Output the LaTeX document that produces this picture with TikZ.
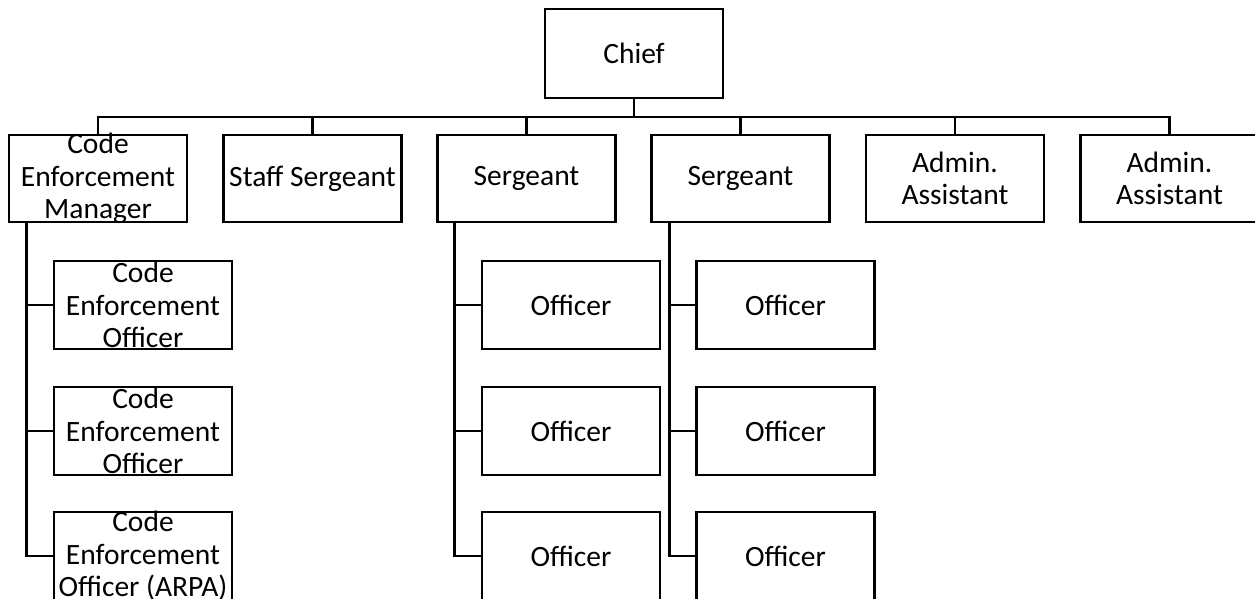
\documentclass[tikz,border=0pt]{standalone}
\usepackage{fontspec}
\setmainfont{Carlito}
\begin{document}
\begin{tikzpicture}[x=1pt,y=-1pt,
  box/.style={draw=black,line width=2.7pt,rectangle,minimum width=178pt,minimum height=88pt,inner sep=0pt,fill=white},
  lbl/.style={align=center,inner sep=0pt,font={\fontsize{29.5}{32.5}\selectfont},text=black},
  wire/.style={draw=black,line width=2.7pt}]
\useasboundingbox (0,0) rectangle (1255,598);
\clip (0,0) rectangle (1255,598);
\fill[white] (0,0) rectangle (1255,598);
% level 1
\node[box,minimum height=89pt] (chief) at (634,53.5) {};
\node[lbl] (chiefT) at (chief) {Chief};
% level 2
\node[box,minimum height=87pt] (cem) at (98,178.5) {};
\node[box,minimum height=87pt] (ss) at (312.5,178.5) {};
\node[box,minimum height=87pt] (sg1) at (526.5,178.5) {};
\node[box,minimum height=87pt] (sg2) at (740.5,178.5) {};
\node[box,minimum height=87pt] (aa1) at (955,178.5) {};
\node[box,minimum height=87pt] (aa2) at (1169.5,178.5) {};
\node[lbl] (cemT) at (cem) {Code\\Enforcement\\Manager};
\node[lbl] (ssT) at (ss) {Staff Sergeant};
\node[lbl] (sg1T) at (sg1) {Sergeant};
\node[lbl] (sg2T) at (sg2) {Sergeant};
\node[lbl] (aa1T) at (aa1) {Admin.\\Assistant};
\node[lbl] (aa2T) at (aa2) {Admin.\\Assistant};
% level 3
\node[box] (c1a) at (143,305) {};
\node[box] (c1b) at (143,431) {};
\node[box] (c1c) at (143,556) {};
\node[box] (c2a) at (571,305) {};
\node[box] (c2b) at (571,431) {};
\node[box] (c2c) at (571,556) {};
\node[box] (c3a) at (785.5,305) {};
\node[box] (c3b) at (785.5,431) {};
\node[box] (c3c) at (785.5,556) {};
\node[lbl] (c1aT) at (c1a) {Code\\Enforcement\\Officer};
\node[lbl] (c1bT) at (c1b) {Code\\Enforcement\\Officer};
\node[lbl] (c1cT) at (c1c) {Code\\Enforcement\\Officer (ARPA)};
\foreach \n in {c2a,c2b,c2c,c3a,c3b,c3c}{\node[lbl] (\n T) at (\n) {Officer};}
% bus
\coordinate (bus) at (634,117);
\draw[wire] (chief.south) -- (bus);
\draw[wire] (cem.north) -- (cem.north |- bus) -- (aa2.north |- bus) -- (aa2.north);
\foreach \n in {ss,sg1,sg2,aa1}{\draw[wire] (\n.north) -- (\n.north |- bus);}
% spines
\coordinate (sp1) at ([xshift=19pt]cem.south west);
\coordinate (sp2) at ([xshift=18pt]sg1.south west);
\coordinate (sp3) at ([xshift=19pt]sg2.south west);
\draw[wire] (sp1) |- (c1c.west);
\draw[wire] (sp1 |- c1a.west) -- (c1a.west);
\draw[wire] (sp1 |- c1b.west) -- (c1b.west);
\draw[wire] (sp2) |- (c2c.west);
\draw[wire] (sp2 |- c2a.west) -- (c2a.west);
\draw[wire] (sp2 |- c2b.west) -- (c2b.west);
\draw[wire] (sp3) |- (c3c.west);
\draw[wire] (sp3 |- c3a.west) -- (c3a.west);
\draw[wire] (sp3 |- c3b.west) -- (c3b.west);
\end{tikzpicture}
\end{document}
